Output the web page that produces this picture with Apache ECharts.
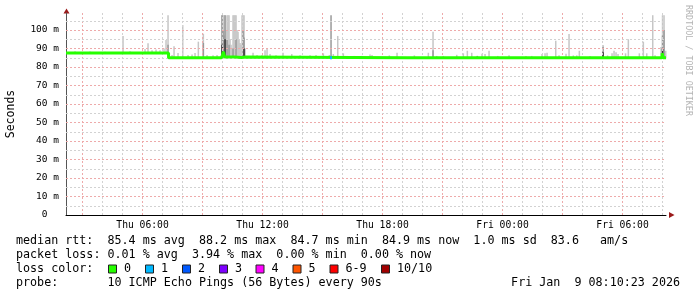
<!DOCTYPE html>
<html><head><meta charset="utf-8">
<script src="https://cdn.jsdelivr.net/npm/echarts@6/dist/echarts.min.js"></script>
<style>html,body{margin:0;padding:0;background:#fff}#c{width:697px;height:297px}</style>
</head><body><div id="c"></div>
<script>
// ---- time window (hours since Thu 00:00) ----
const startHour = 2 + 10/60 + 23/3600;   // Thu 02:10:23
const endHour = startHour + 30;           // Fri 08:10:23

// ---- axis ticks ----
const xTickHours = [6, 12, 18, 24, 30];
const xTickLabels = ['Thu 06:00', 'Thu 12:00', 'Thu 18:00', 'Fri 00:00', 'Fri 06:00'];
const yTickValues = [0, 10, 20, 30, 40, 50, 60, 70, 80, 90, 100];
const yTickLabels = ['0  ', '10 m', '20 m', '30 m', '40 m', '50 m', '60 m', '70 m', '80 m', '90 m', '100 m'];

// ---- median rtt (ms), [hour, value] held until next point ----
const medianRtt = [
  [startHour, 87.6], [7.30, 85.0], [9.95, 85.3], [10.05, 88.2], [10.10, 85.4],
  [10.60, 85.2], [10.95, 85.4], [11.15, 85.0], [19.25, 86.0], [19.30, 85.0],
  [22.08, 85.9], [22.13, 85.0], [24.53, 86.0], [24.58, 85.0], [31.98, 87.5],
  [32.03, 85.0], [endHour, 84.9]
];

// ---- smoke (ms): [hour, top] ----
const smokeLight = [
  [2.625, 88.5], [3.375, 88.4], [4.125, 88.3], [5.025, 96.8], [5.375, 88.5],
  [6.125, 89.7], [6.275, 92.8], [6.475, 89.0], [6.675, 89.5], [6.875, 89.0],
  [7.075, 90.0], [7.175, 94.6], [7.275, 108.0], [7.475, 86.5], [7.575, 91.2],
  [7.775, 87.6], [8.01, 102.7], [8.275, 86.5], [8.475, 86.8], [8.625, 87.6],
  [8.79, 93.7], [9.04, 98.0], [9.225, 86.5], [9.525, 86.3], [9.725, 86.5],
  [9.975, 108.0], [10.025, 108.0], [10.075, 108.0], [10.125, 108.0], [10.175, 100.0],
  [10.225, 108.0], [10.275, 108.0], [10.325, 108.0], [10.375, 95.0], [10.425, 92.0],
  [10.475, 90.0], [10.525, 108.0], [10.575, 108.0], [10.625, 108.0], [10.675, 108.0],
  [10.725, 100.0], [10.775, 99.0], [10.825, 95.0], [10.875, 93.0], [10.925, 92.0],
  [10.975, 108.0], [11.025, 108.0], [11.075, 108.0], [11.125, 90.0], [11.525, 87.7],
  [11.725, 86.5], [11.975, 86.5], [12.125, 89.0], [12.225, 90.0], [12.375, 87.0],
  [12.675, 86.3], [13.025, 87.7], [13.46, 87.0], [13.875, 86.3], [14.375, 86.3],
  [14.675, 86.5], [15.04, 87.4], [15.34, 86.5], [15.54, 87.0], [15.76, 96.8],
  [16.04, 87.4], [16.59, 86.0], [16.96, 86.0], [17.375, 86.8], [17.475, 86.5],
  [18.34, 86.3], [18.725, 87.7], [19.59, 86.3], [20.29, 87.7], [20.525, 99.1],
  [20.71, 86.0], [21.04, 86.0], [21.71, 86.6], [22.04, 87.4], [22.24, 88.8],
  [22.46, 87.7], [22.74, 86.0], [22.975, 87.2], [23.125, 87.0], [23.325, 88.8],
  [23.76, 86.0], [24.325, 86.3], [25.175, 86.0], [25.46, 86.0], [25.975, 87.0],
  [26.125, 87.5], [26.225, 87.7], [26.66, 94.2], [26.825, 86.3], [27.175, 87.2],
  [27.325, 97.8], [27.54, 86.3], [27.71, 86.3], [27.84, 88.8], [28.375, 86.0],
  [29.025, 91.9], [29.25, 86.3], [29.475, 87.5], [29.575, 88.8], [29.675, 88.0],
  [29.775, 87.0], [30.15, 87.4], [30.29, 95.0], [30.84, 87.4], [31.04, 93.7],
  [31.21, 87.4], [31.51, 108.0], [31.625, 86.3], [31.925, 90.8], [32.0, 108.0],
  [32.075, 108.0], [32.16, 88.8]
];
const smokeMid = [
  [7.275, 92.0], [9.04, 93.0], [9.975, 108.0], [10.025, 100.0], [10.075, 97.0],
  [10.125, 108.0], [10.225, 95.0], [10.325, 92.0], [10.525, 90.0], [10.675, 95.0],
  [11.025, 100.0], [11.075, 96.0], [15.425, 108.0], [20.525, 89.0], [22.74, 86.0],
  [29.025, 91.0], [32.0, 97.0], [32.075, 100.0]
];
const smokeDark = [
  [9.975, 92.0], [10.125, 95.0], [11.075, 90.0], [29.025, 88.0], [32.0, 90.0]
];

// ---- loss marks on the median line: [hour, lost pings] ----
const lossMarks = [[15.425, 1]];

// ---- legend / stats text ----
const lossLabels = ['0', '1', '2', '3', '4', '5', '6-9', '10/10'];
const lossColors = ['#26ff00', '#00b8ff', '#0059ff', '#7e00ff', '#ff00ff', '#ff5500', '#ff0000', '#a10000'];
const statLine1 = 'median rtt:  85.4 ms avg  88.2 ms max  84.7 ms min  84.9 ms now  1.0 ms sd  83.6   am/s';
const statLine2 = 'packet loss: 0.01 % avg  3.94 % max  0.00 % min  0.00 % now';
const statLine3 = 'loss color:';
const statLine4 = 'probe:       10 ICMP Echo Pings (56 Bytes) every 90s';
const stampText = 'Fri Jan  9 08:10:23 2026';
const sideText = 'RRDTOOL / TOBI OETIKER';

// ---------------------------------------------------------------
const GL = 66, GT = 13, GW = 600, GH = 202, YMAX = 109.2;
const MONO = '"DejaVu Sans Mono", monospace';
const RED = '#eeaaaa', GRAY = '#d2d2d2';

function medianAt(h) {
  let v = medianRtt[0][1];
  for (const p of medianRtt) { if (p[0] <= h) v = p[1]; }
  return v;
}
function smokeData(arr) { return arr.map(p => [p[0], p[1], medianAt(p[0]) - 0.3]); }
function smokeSeries(arr, color, z) {
  return {
    type: 'custom', z: z, silent: true, animation: false,
    data: smokeData(arr),
    renderItem: function (params, api) {
      const top = api.coord([api.value(0), api.value(1)]);
      const bot = api.coord([api.value(0), api.value(2)]);
      return { type: 'rect', shape: { x: top[0] - 0.75, y: top[1], width: 1.5, height: bot[1] - top[1] },
               style: { fill: color } };
    }
  };
}

const vLines = [];
for (let h = Math.ceil(startHour); h <= endHour; h++) {
  vLines.push({ xAxis: h, lineStyle: { color: h % 3 === 0 ? RED : GRAY } });
}
const hLines = [];
for (let v = 5; v <= 105; v += 5) {
  hLines.push({ yAxis: v, lineStyle: { color: v % 10 === 0 ? RED : GRAY } });
}

function hourLabel(v) {
  const i = xTickHours.findIndex(t => Math.abs(t - v) < 1e-6);
  return i >= 0 ? xTickLabels[i] : '';
}
function yLabel(v) {
  const i = yTickValues.indexOf(Math.round(v));
  return i >= 0 && Math.abs(v - Math.round(v)) < 1e-6 ? yTickLabels[i] : '';
}

const graphics = [];
const txt = (x, y, s, extra) => graphics.push(Object.assign({ type: 'text', x: x, y: y, silent: true,
  style: Object.assign({ text: s, font: '11.7px ' + MONO, fill: '#000', verticalAlign: 'middle' }, extra || {}) }));
txt(16, 241, statLine1);
txt(16, 255, statLine2);
txt(16, 269, statLine3);
txt(16, 283, statLine4);
txt(680, 283, stampText, { align: 'right' });
const boxX = [108.5, 145.5, 182.5, 219.5, 256, 293, 330, 381.5];
lossLabels.forEach((lab, i) => {
  graphics.push({ type: 'rect', x: boxX[i], y: 265, silent: true, shape: { x: 0, y: 0, width: 8, height: 8 },
    style: { fill: lossColors[i], stroke: '#222', lineWidth: 1 } });
  txt(boxX[i] + 15.5, 269, lab);
});
txt(688, 5, sideText, { font: '8.4px ' + MONO, fill: '#b4b4b4', verticalAlign: 'middle' });
graphics[graphics.length - 1].rotation = -Math.PI / 2;
// axis arrows
graphics.push({ type: 'polygon', silent: true, shape: { points: [[66.5, 8.5], [63.5, 13.5], [69.5, 13.5]] }, style: { fill: '#9b1b1b' } });
graphics.push({ type: 'polygon', silent: true, shape: { points: [[674.5, 215], [669, 212], [669, 218]] }, style: { fill: '#9b1b1b' } });

const chart = echarts.init(document.getElementById('c'), null, { renderer: 'canvas' });
chart.setOption({
  animation: false,
  backgroundColor: '#ffffff',
  grid: { left: GL, top: GT, width: GW, height: GH, containLabel: false, outerBoundsMode: 'none' },
  xAxis: {
    type: 'value', min: startHour, max: endHour,
    axisLine: { show: true, onZero: false, lineStyle: { color: '#000', width: 1 } },
    axisTick: { show: false },
    splitLine: { show: false },
    axisLabel: { customValues: xTickHours, formatter: hourLabel, margin: 5,
                 fontFamily: 'DejaVu Sans Mono', fontSize: 9.7, color: '#000' }
  },
  yAxis: {
    type: 'value', min: 0, max: YMAX,
    name: 'Seconds', nameLocation: 'middle', nameGap: 49, nameRotate: 90,
    nameTextStyle: { fontFamily: 'DejaVu Sans Mono', fontSize: 11.5, color: '#000' },
    axisLine: { show: true, onZero: false, lineStyle: { color: '#555', width: 1 } },
    axisTick: { show: false },
    splitLine: { show: false },
    axisLabel: { customValues: yTickValues, formatter: yLabel, margin: 7,
                 fontFamily: 'DejaVu Sans Mono', fontSize: 9.5, color: '#000' }
  },
  series: [
    { type: 'line', data: [], z: 1, silent: true,
      markLine: { silent: true, symbol: ['none', 'none'], animation: false, label: { show: false },
        lineStyle: { type: [2, 2], width: 1 }, emphasis: { disabled: true },
        data: vLines.concat(hLines) } },
    smokeSeries(smokeLight, '#c6c6c6', 2),
    smokeSeries(smokeMid, '#999999', 3),
    smokeSeries(smokeDark, '#333333', 4),
    { type: 'line', data: medianRtt, step: 'end', z: 5, silent: true, symbol: 'none',
      lineStyle: { color: '#26ff00', width: 3 } },
    { type: 'custom', z: 6, silent: true,
      data: lossMarks.map(p => [p[0], medianAt(p[0]), p[1]]),
      renderItem: function (params, api) {
        const c = api.coord([api.value(0), api.value(1)]);
        const n = api.value(2);
        const col = n >= 10 ? lossColors[7] : n >= 6 ? lossColors[6] : lossColors[n];
        return { type: 'rect', shape: { x: c[0] - 1, y: c[1] - 1.5, width: 2, height: 3 }, style: { fill: col } };
      } }
  ],
  graphic: graphics
});
</script></body></html>
